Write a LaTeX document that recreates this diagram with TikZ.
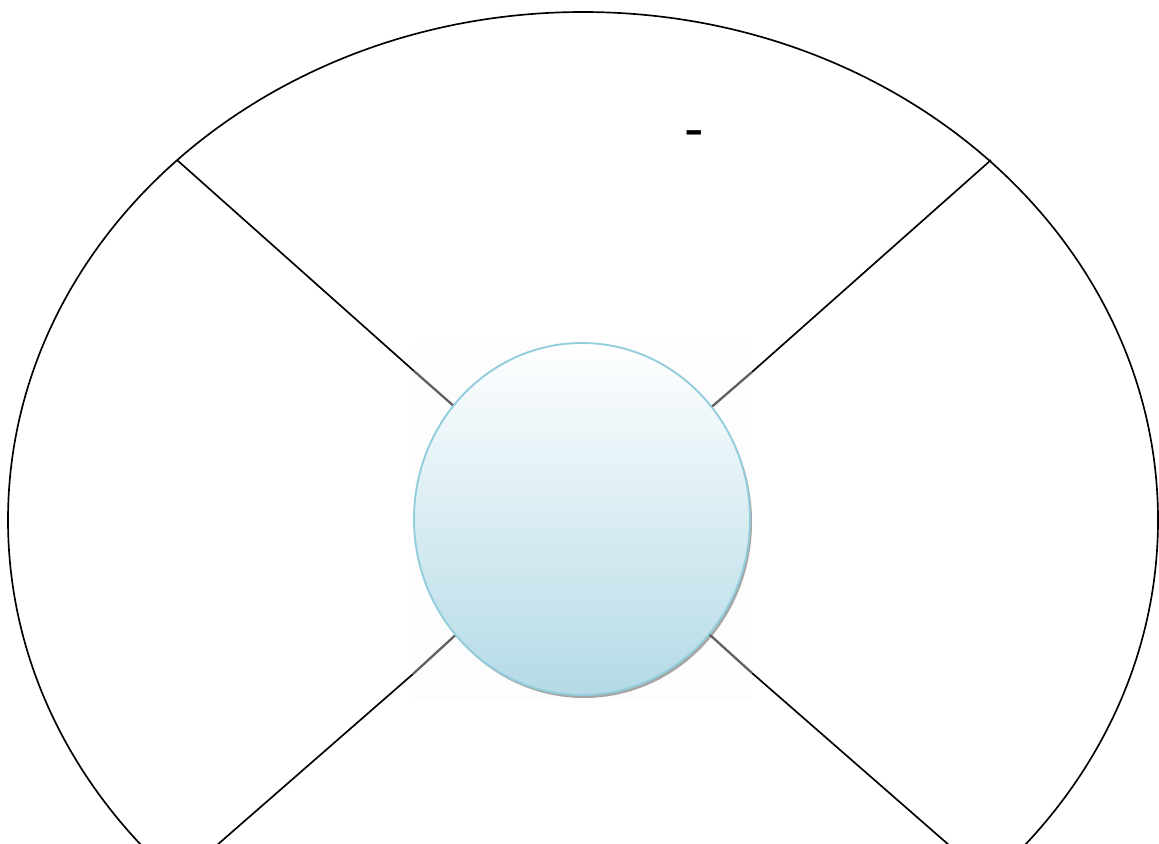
\documentclass[tikz,border=0pt]{standalone}
\usetikzlibrary{shapes.geometric,shadows}
\definecolor{rimblue}{RGB}{146,205,220}
\definecolor{lowblue}{RGB}{180,218,230}
\definecolor{greyseg}{RGB}{95,95,95}
\tikzset{
  spoke/.style={draw=black,line width=1.25pt},
  spokegrey/.style={draw=greyseg,line width=1.7pt},
  hub/.style={ellipse,draw=rimblue,line width=1.4pt,minimum width=336*0.75pt,minimum height=352*0.75pt,
    top color=white,bottom color=lowblue,inner sep=0pt},
  rim/.style={ellipse,draw=black,line width=1.25pt,minimum width=1150*0.75pt,minimum height=1016*0.75pt,inner sep=0pt}
}
\begin{document}
\begin{tikzpicture}[x=0.75pt,y=-0.75pt]
\useasboundingbox (0,0) rectangle (1159,843);
\begin{scope}
\clip (0,0) rectangle (1159,843);
\node[rim] (E) at (583,520) {};
\fill[black!0.8] (414,343) rectangle (752,700);
\coordinate (p1) at (177,160);
\coordinate (p2) at (991,160);
\coordinate (p3) at (177,880);
\coordinate (p4) at (989,880);
\coordinate (g1) at (414,371);
\coordinate (g2) at (752,372);
\coordinate (g3) at (413,674);
\coordinate (g4) at (752,673);
\fill[black!35] (584,522) ellipse [x radius=168,y radius=176];
\node[hub] (c) at (582,519) {};
\draw[spoke] (p1) -- (g1);
\draw[spoke] (p2) -- (g2);
\draw[spoke] (p3) -- (g3);
\draw[spoke] (p4) -- (g4);
\draw[spokegrey] (g1) -- (c);
\draw[spokegrey] (g2) -- (c);
\draw[spokegrey] (g3) -- (c);
\draw[spokegrey] (g4) -- (c);
\node[anchor=base,inner sep=0pt] (d) at (695,143) {\fontsize{36}{36}\selectfont\bfseries -};
\end{scope}
\end{tikzpicture}
\end{document}
